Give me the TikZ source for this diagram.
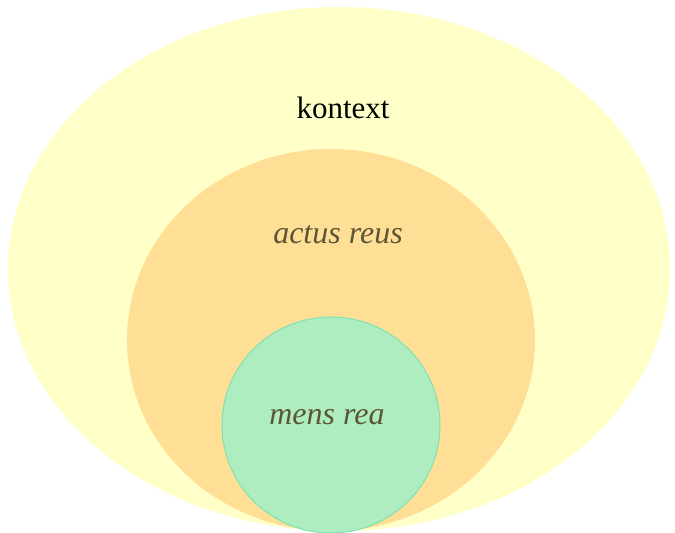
\documentclass[tikz,border=0pt]{standalone}
\usepackage{fontspec}
\setmainfont{Liberation Serif}
\begin{document}
\begin{tikzpicture}[x=1pt,y=-1pt,
  lbl/.style={font=\fontsize{31}{36}\selectfont, inner sep=0pt, anchor=base},
  ilbl/.style={font=\fontsize{32}{38}\selectfont\itshape, inner sep=0pt, anchor=base, text=txt}]
\useasboundingbox (0,0) rectangle (675,533);
\definecolor{outery}{HTML}{FFFFC8}
\definecolor{midor}{HTML}{FFDF96}
\definecolor{grn}{HTML}{AEEDC0}
\definecolor{grnline}{HTML}{7CE3B0}
\definecolor{txt}{HTML}{5C5636}
\fill[outery] (339,269) ellipse [x radius=331, y radius=262];
\fill[midor] (331,340) ellipse [x radius=204, y radius=191];
\fill[grn, draw=grnline, line width=1pt] (331,425) ellipse [x radius=109, y radius=108];
\node[lbl] (k) at (343,118) {kontext};
\node[ilbl] (a) at (338,243) {actus reus};
\node[ilbl] (m) at (327,424) {mens rea};
\end{tikzpicture}
\end{document}
